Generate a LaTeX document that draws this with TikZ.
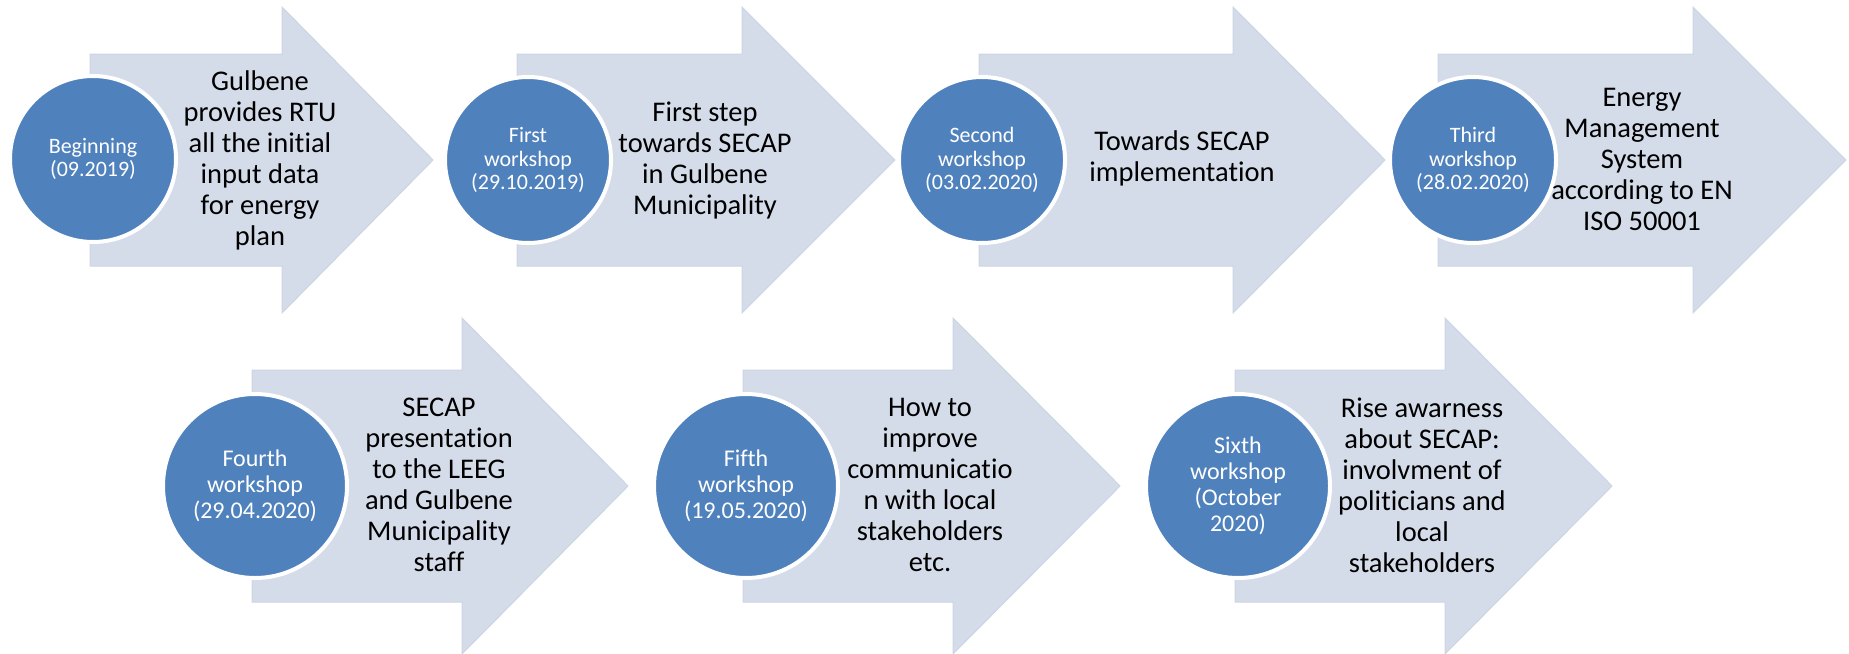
\documentclass[tikz,border=0pt]{standalone}
\usepackage{fontspec}
\setmainfont{Carlito}[Ligatures=NoCommon]
\definecolor{stagefill}{HTML}{D5DCE9}
\definecolor{stageedge}{HTML}{CCD4E3}
\definecolor{dotblue}{HTML}{4F81BD}

\tikzset{
    stage/.style={fill=stagefill, draw=stageedge, line width=1pt, line join=miter},
    dot/.style={circle, fill=dotblue, draw=white, line width=4pt, text=white, align=center, inner sep=0pt},
    dotA/.style={dot, minimum size=166pt, font=\fontsize{22}{23.5}\selectfont},
    dotB/.style={dot, minimum size=184pt, font=\fontsize{24}{26}\selectfont},
    desc/.style={align=center, font=\fontsize{28.5}{31}\selectfont}
}

\begin{document}
\begin{tikzpicture}[x=1pt, y=-1pt]
    \useasboundingbox (0,0) rectangle (1849,653);
    % upper row
    \draw[stage] (90,54) -- (282,54) -- (282,7) -- (433,160) -- (282,313) -- (282,266) -- (90,266) -- cycle;
    \draw[stage] (517,54) -- (742,54) -- (742,7) -- (895,160) -- (742,313) -- (742,266) -- (517,266) -- cycle;
    \draw[stage] (979,54) -- (1233,54) -- (1233,7) -- (1385,160) -- (1233,313) -- (1233,266) -- (979,266) -- cycle;
    \draw[stage] (1438,54) -- (1693,54) -- (1693,7) -- (1846,160) -- (1693,313) -- (1693,266) -- (1438,266) -- cycle;
    % lower row
    \draw[stage] (252,370) -- (462,370) -- (462,318) -- (628,486) -- (462,654) -- (462,602) -- (252,602) -- cycle;
    \draw[stage] (743,370) -- (953,370) -- (953,318) -- (1120,486) -- (953,654) -- (953,602) -- (743,602) -- cycle;
    \draw[stage] (1235,370) -- (1445,370) -- (1445,318) -- (1612,486) -- (1445,654) -- (1445,602) -- (1235,602) -- cycle;

    \node[dotA] (c_b) at (93,159) {Beginning\\(09.2019)};
    \node[dotA] (c_1) at (528,160) {First\\workshop\\(29.10.2019)};
    \node[dotA] (c_2) at (982,160) {Second\\workshop\\(03.02.2020)};
    \node[dotA] (c_3) at (1473,160) {Third\\workshop\\(28.02.2020)};
    \node[dotB] (c_4) at (255,486) {Fourth\\workshop\\(29.04.2020)};
    \node[dotB] (c_5) at (746,486) {Fifth\\workshop\\(19.05.2020)};
    \node[dotB] (c_6) at (1238,486) {Sixth\\workshop\\(October\\2020)};

    \node[desc] (t_b) at (260,160) {Gulbene\\provides RTU\\all the initial\\input data\\for energy\\plan};
    \node[desc] (t_1) at (705,160) {First step\\towards SECAP\\in Gulbene\\Municipality};
    \node[desc] (t_2) at (1182,158) {Towards SECAP\\implementation};
    \node[desc] (t_3) at (1642,159) {Energy\\Management\\System\\according to EN\\ISO 50001};
    \node[desc] (t_4) at (439,485) {SECAP\\presentation\\to the LEEG\\and Gulbene\\Municipality\\staff};
    \node[desc] (t_5) at (930,485) {How to\\improve\\communicatio\\n with local\\stakeholders\\etc.};
    \node[desc] (t_6) at (1422,485) {Rise awarness\\about SECAP:\\involvment of\\politicians and\\local\\stakeholders};
\end{tikzpicture}
\end{document}
